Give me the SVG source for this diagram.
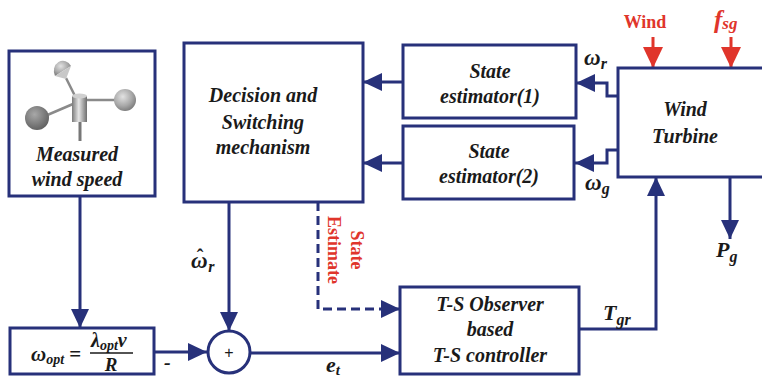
<svg xmlns="http://www.w3.org/2000/svg" width="762" height="377" viewBox="0 0 762 377">
  <style>
    .box { fill: #ffffff; stroke: #27317a; stroke-width: 3; }
    .wire { fill: none; stroke: #27317a; stroke-width: 3; }
    .dash { fill: none; stroke: #27317a; stroke-width: 3; stroke-dasharray: 9 5; }
    .red { fill: none; stroke: #e0352b; stroke-width: 3; }
    .lbl { font-family: "Liberation Serif", "Times New Roman", serif; font-weight: bold; font-style: italic; font-size: 20px; fill: #1a1a1a; text-anchor: middle; }
    .math { font-family: "Liberation Serif", "Times New Roman", serif; font-weight: bold; font-style: italic; fill: #1a1a1a; }
    .redtxt { font-family: "Liberation Serif", "Times New Roman", serif; font-weight: bold; fill: #e0352b; }
  </style>
  <defs>
    <marker id="arr" markerUnits="userSpaceOnUse" markerWidth="19" markerHeight="18" refX="19" refY="9" orient="auto">
      <path d="M0,0 L19,9 L0,18 Z" fill="#27317a"/>
    </marker>
    <marker id="arrRed" markerUnits="userSpaceOnUse" markerWidth="21" markerHeight="20" refX="21" refY="10" orient="auto">
      <path d="M0,0 L21,10 L0,20 Z" fill="#e0352b"/>
    </marker>
    <radialGradient id="ball" cx="0.4" cy="0.35" r="0.7">
      <stop offset="0" stop-color="#e2e2e2"/>
      <stop offset="0.6" stop-color="#a8a8a8"/>
      <stop offset="1" stop-color="#777777"/>
    </radialGradient>
    <radialGradient id="ballDark" cx="0.4" cy="0.35" r="0.7">
      <stop offset="0" stop-color="#a8a8a8"/>
      <stop offset="1" stop-color="#5e5e5e"/>
    </radialGradient>
    <linearGradient id="cyl" x1="0" y1="0" x2="1" y2="0">
      <stop offset="0" stop-color="#7a7a7a"/>
      <stop offset="0.45" stop-color="#e6e6e6"/>
      <stop offset="1" stop-color="#6e6e6e"/>
    </linearGradient>
  </defs>

  <!-- connectors -->
  <g id="connectors">
    <line class="wire" x1="80" y1="196" x2="80" y2="328" marker-end="url(#arr)"/>
    <line class="wire" x1="154" y1="352" x2="207" y2="352" marker-end="url(#arr)"/>
    <line class="wire" x1="229" y1="202" x2="229" y2="331" marker-end="url(#arr)"/>
    <line class="wire" x1="250" y1="353" x2="400" y2="353" marker-end="url(#arr)"/>
    <polyline class="dash" points="318,202 318,309 400,309" marker-end="url(#arr)"/>
    <line class="wire" x1="403" y1="82" x2="363" y2="82" marker-end="url(#arr)"/>
    <line class="wire" x1="403" y1="163" x2="363" y2="163" marker-end="url(#arr)"/>
    <polyline class="wire" points="618,96 607,96 607,83 576,83" marker-end="url(#arr)"/>
    <polyline class="wire" points="618,150 607,150 607,163 575,163" marker-end="url(#arr)"/>
    <polyline class="wire" points="579,329 656,329 656,177" marker-end="url(#arr)"/>
    <line class="wire" x1="730" y1="177" x2="730" y2="239" marker-end="url(#arr)"/>
    <line class="red" x1="653" y1="37" x2="653" y2="68" marker-end="url(#arrRed)"/>
    <line class="red" x1="731" y1="37" x2="731" y2="68" marker-end="url(#arrRed)"/>
  </g>

  <!-- signal labels -->
  <g id="labels">
    <text class="math" x="164" y="369" font-size="20" font-style="normal">-</text>
    <text class="math" x="191" y="268" font-size="23">ω<tspan dx="-11" dy="-4" font-size="20" font-style="normal">ˆ</tspan><tspan dx="5" dy="8" font-size="16">r</tspan></text>
    <text class="math" x="326" y="372" font-size="22">e<tspan font-size="15" dy="3">t</tspan></text>
    <text class="math" x="584" y="65" font-size="23">ω<tspan font-size="16" dy="4">r</tspan></text>
    <text class="math" x="585" y="190" font-size="23">ω<tspan font-size="16" dy="4">g</tspan></text>
    <text class="math" x="603" y="320" font-size="22">T<tspan font-size="16" dy="5">gr</tspan></text>
    <text class="math" x="716" y="257" font-size="22">P<tspan font-size="16" dy="5">g</tspan></text>
    <text class="redtxt" x="645" y="28" font-size="18" text-anchor="middle">Wind</text>
    <text class="redtxt" x="714" y="28" font-size="25" font-style="italic">f<tspan font-size="17" dy="1">sg</tspan></text>
    <text class="redtxt" font-size="18" text-anchor="middle" transform="translate(351,250) rotate(90)">State</text>
    <text class="redtxt" font-size="18" text-anchor="middle" transform="translate(328,250) rotate(90)">Estimate</text>
  </g>

  <!-- measured wind speed -->
  <g id="anemometer">
    <rect class="box" x="9" y="51" width="146" height="145"/>
    <g stroke="#8a8a8a" stroke-width="2.5" fill="none">
      <line x1="66" y1="78" x2="76" y2="98"/>
      <line x1="86" y1="100" x2="118" y2="100"/>
      <line x1="73" y1="104" x2="45" y2="116"/>
    </g>
    <line x1="80" y1="120" x2="80" y2="141" stroke="#777" stroke-width="3"/>
    <path d="M55,76 A9,10 0 0 1 71,66 Z" fill="url(#ball)"/>
    <path d="M55,76 L71,66 L66,79 Z" fill="#c8c8c8"/>
    <circle cx="125" cy="100" r="11" fill="url(#ball)"/>
    <circle cx="37" cy="118" r="12" fill="url(#ballDark)"/>
    <rect x="72" y="96" width="15" height="26" fill="url(#cyl)"/>
    <ellipse cx="79.5" cy="96" rx="7.5" ry="2.5" fill="#d0d0d0"/>
    <text class="lbl" x="77" y="161">Measured</text>
    <text class="lbl" x="77" y="186">wind speed</text>
  </g>

  <!-- reference speed -->
  <g id="omega-opt">
    <rect class="box" x="10" y="328" width="144" height="46"/>
    <text class="math" x="31" y="361" font-size="21" font-style="normal">ω<tspan font-size="14" font-style="italic" dy="3">opt</tspan><tspan dy="-3" font-style="normal"> =</tspan></text>
    <text class="math" x="91" y="347" font-size="20">λ<tspan font-size="14" dy="3">opt</tspan><tspan dy="-3">ν</tspan></text>
    <line x1="90" y1="353" x2="133" y2="353" stroke="#1a1a1a" stroke-width="1.6"/>
    <text class="math" x="111" y="371" font-size="19" text-anchor="middle">R</text>
  </g>

  <!-- summing junction -->
  <g id="sum">
    <circle class="box" cx="229" cy="352" r="21"/>
    <text x="229" y="358" font-family="Liberation Sans, Arial, sans-serif" font-size="16" text-anchor="middle" fill="#1a1a1a">+</text>
  </g>

  <!-- decision / switching -->
  <g id="decision">
    <rect class="box" x="184" y="43" width="179" height="159"/>
    <text class="lbl" x="263" y="102">Decision and</text>
    <text class="lbl" x="263" y="129">Switching</text>
    <text class="lbl" x="263" y="154">mechanism</text>
  </g>

  <!-- estimators -->
  <g id="estimator1">
    <rect class="box" x="403" y="45" width="173" height="73"/>
    <text class="lbl" x="490" y="78">State</text>
    <text class="lbl" x="490" y="103">estimator(1)</text>
  </g>
  <g id="estimator2">
    <rect class="box" x="403" y="126" width="171" height="73"/>
    <text class="lbl" x="489" y="158">State</text>
    <text class="lbl" x="489" y="183">estimator(2)</text>
  </g>

  <!-- plant -->
  <g id="turbine">
    <rect class="box" x="618" y="68" width="150" height="109"/>
    <text class="lbl" x="685" y="116">Wind</text>
    <text class="lbl" x="685" y="143">Turbine</text>
  </g>

  <!-- observer / controller -->
  <g id="controller">
    <rect class="box" x="400" y="287" width="179" height="87"/>
    <text class="lbl" x="490" y="311">T-S Observer</text>
    <text class="lbl" x="490" y="336">based</text>
    <text class="lbl" x="490" y="362">T-S controller</text>
  </g>
</svg>
